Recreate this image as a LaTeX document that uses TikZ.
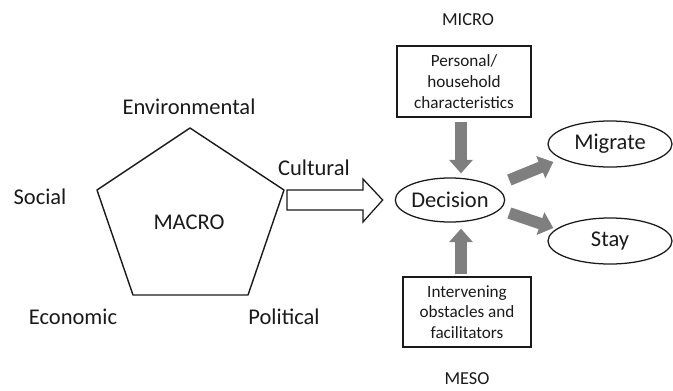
\documentclass[tikz,border=0pt]{standalone}
\usepackage{fontspec}
\setmainfont{Carlito}
\usepackage{xcolor}
\definecolor{ArrowGrey}{HTML}{7F7F7F}
\definecolor{InkBlack}{HTML}{1A1A1A}
\usepackage{tikz}
\usetikzlibrary{arrows.meta, positioning, calc, shapes.geometric}
\tikzset{
  level/.style={font=\fontsize{13}{15}\selectfont, text=InkBlack, inner sep=1pt},
  factor/.style={font=\fontsize{16}{19}\selectfont, text=InkBlack},
  infobox/.style={rectangle, draw=InkBlack, line width=0.9pt, align=center,
    font=\fontsize{12.2}{14.7}\selectfont, text=InkBlack, inner sep=2pt},
  choice/.style={ellipse, draw=InkBlack, line width=0.9pt,
    font=\fontsize{16}{19}\selectfont, text=InkBlack, inner sep=0pt},
  greyarrow/.style={draw=ArrowGrey, line width=0.29cm,
    -{Triangle[length=0.34cm, width=0.58cm]}, color=ArrowGrey},
  hollow/.style={draw=InkBlack, line width=0.9pt, fill=white, line join=miter}
}

\begin{document}
\begin{tikzpicture}[x=0.025cm, y=-0.025cm]
        \useasboundingbox (0,0) rectangle (673,390);

        % Pentagon of macro factors
        \coordinate (ptop) at (190,128);
        \coordinate (pright) at (284,190);
        \coordinate (pbr) at (248,295);
        \coordinate (pbl) at (133,295);
        \coordinate (pleft) at (97,190);
        \draw [line width=1pt, draw=InkBlack, line join=round] (ptop) -- (pright) -- (pbr) -- (pbl) -- (pleft) -- cycle;
        \node [factor] (macro) at (189,222) {MACRO};

        \node [factor] (env) at (189,107) {Environmental};
        \node [factor] (social) at (40,197) {Social};
        \node [factor] (econ) at (73,317) {Economic};
        \node [factor] (pol) at (284,317) {Political};
        \node [factor] (cult) at (314,168) {Cultural};

        % Decision and outcomes
        \node [choice, minimum width=2.65cm, minimum height=1.1cm] (decision) at (450,200) {Decision};
        \node [choice, minimum width=3.1cm, minimum height=1.15cm] (migrate) at (610,144) {Migrate};
        \node [choice, minimum width=3.1cm, minimum height=1.15cm] (stay) at (610,241) {Stay};

        % Micro and meso boxes
        \node [infobox, minimum width=3.35cm, minimum height=1.775cm] (pers) at (464,81.5) {Personal/\\household\\characteristics};
        \node [infobox, minimum width=3.2cm, minimum height=1.75cm] (inter) at (467,312) {Intervening\\obstacles and\\facilitators};
        \node [level] (micro) at (468,20) {MICRO};
        \node [level] (meso) at (467,379) {MESO};

        % Hollow arrow into the decision
        \coordinate (tail) at (287,200);
        \draw [hollow] ($(tail)+(0,-10)$) -- ++(76,0) -- ++(0,-11) -- ($(decision.west)+(-12,0)$)
          -- ($(tail)+(76,22)$) -- ++(0,-12) -- ($(tail)+(0,10)$) -- cycle;

        % Grey arrows
        \draw [greyarrow, shorten <=0.1cm, shorten >=0.1cm] ([xshift=-0.075cm]pers.south) -- ([xshift=-0.075cm]pers.south |- decision.north);
        \draw [greyarrow, shorten <=0.05cm, shorten >=0.15cm] ([xshift=-0.15cm]inter.north) -- ([xshift=-0.15cm]inter.north |- decision.south);
        \draw [greyarrow] ($(decision.east)+(4,-20)$) -- ($(migrate.west)+(6,18)$);
        \draw [greyarrow] ($(decision.east)+(4,13)$) -- ($(stay.west)+(6,-13)$);
    \end{tikzpicture}
\end{document}
